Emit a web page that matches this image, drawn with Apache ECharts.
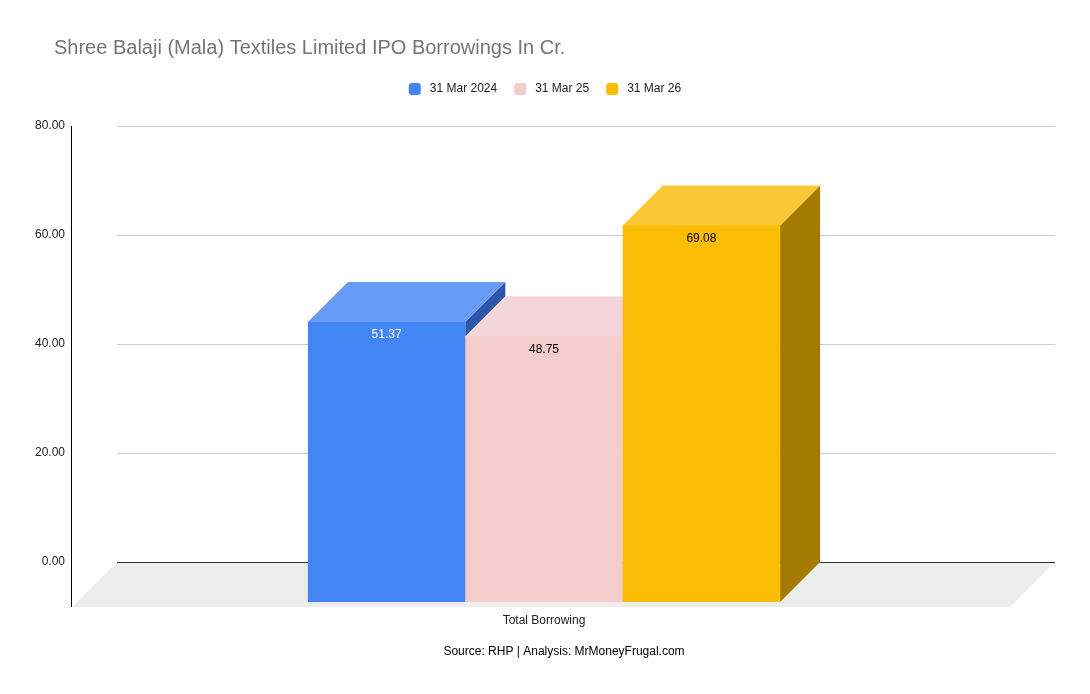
<!DOCTYPE html>
<html>
<head>
<meta charset="utf-8">
<script src="https://cdn.jsdelivr.net/npm/echarts@6/dist/echarts.min.js"></script>
<style>
html,body{margin:0;padding:0;background:#fff;}
#chart{width:1090px;height:694px;}
</style>
</head>
<body>
<div id="chart"></div>
<script>
const titleText = 'Shree Balaji (Mala) Textiles Limited IPO Borrowings In Cr.';
const sourceText = 'Source: RHP | Analysis: MrMoneyFrugal.com';
const categories = ['Total Borrowing'];
const seriesNames = ['31 Mar 2024', '31 Mar 25', '31 Mar 26'];
const values2024 = [51.37];
const values2025 = [48.75];
const values2026 = [69.08];
const yTicks = [0, 20, 40, 60, 80];

const FONT = '"Liberation Sans", Arial, sans-serif';
const D = 40;        // bar depth offset (px)
const FD = 45;       // floor depth offset (px)
const BAR_FRAC = 0.1678;
const BAR_SHIFT = -2;

const palettes = [
  {front:'#4285F4', top:'#679DF6', side:'#2C56A8', label:'#ffffff'},
  {front:'#F4CCCC', top:'#F5D6D8', side:'#9E8A8A', label:'#000000'},
  {front:'#FBBC04', top:'#FBC935', side:'#A37B02', label:'#000000'}
];

function barRender(idx){
  const p = palettes[idx];
  return function(params, api){
    const top = api.coord([api.value(0), api.value(1)]);
    const base = api.coord([api.value(0), 0]);
    const band = api.size([1, 0])[0];
    const w = band * BAR_FRAC;
    const bx0 = base[0] + BAR_SHIFT - 1.5 * w + idx * w;
    const bx1 = bx0 + w;
    const ty = top[1], by = base[1];
    const val = api.value(1);
    return {
      type: 'group',
      children: [
        {type:'polygon', shape:{points:[[bx1-D,ty+D],[bx1,ty],[bx1,by],[bx1-D,by+D]]}, style:{fill:p.side}},
        {type:'polygon', shape:{points:[[bx0-D,ty+D+2],[bx0-D,ty+D],[bx0,ty],[bx1,ty],[bx1-D,ty+D],[bx1-D,ty+D+2]]}, style:{fill:p.top}},
        {type:'rect', shape:{x:bx0-D, y:ty+D, width:w, height:by-ty}, style:{fill:p.front}},
        {type:'text', x:bx0-D+w/2, y:ty+D+13, style:{text:val.toFixed(2), fill:p.label, font:'12px ' + FONT, align:'center', verticalAlign:'middle'}}
      ]
    };
  };
}

function floorRender(params, api){
  const cs = params.coordSys;
  const z = api.coord([0, 0]);
  const x0 = cs.x, x1 = cs.x + cs.width, y0 = Math.round(z[1]);
  const ax = Math.round(x0 - 46) + 0.5;
  return {
    type:'group',
    children:[
      {type:'polygon', shape:{points:[[x0,y0],[x1,y0],[x1-FD,y0+FD],[x0-FD,y0+FD]]}, style:{fill:'#EDEDED'}},
      {type:'line', shape:{x1:x0, y1:y0+0.5, x2:x1, y2:y0+0.5}, style:{stroke:'#333333', lineWidth:1}},
      {type:'line', shape:{x1:ax, y1:cs.y, x2:ax, y2:y0+FD}, style:{stroke:'#000000', lineWidth:1}}
    ]
  };
}

const chart = echarts.init(document.getElementById('chart'), null, {renderer:'canvas'});
const valueSets = [values2024, values2025, values2026];

chart.setOption({
  backgroundColor:'#ffffff',
  animation:false,
  title:{text:titleText, left:54, top:38, padding:0, textStyle:{fontFamily:FONT, fontSize:20, fontWeight:'normal', color:'#757575'}},
  graphic:[{type:'text', x:564, y:652, style:{text:sourceText, font:'12px ' + FONT, fill:'#000000', align:'center', verticalAlign:'middle'}}],
  legend:{
    top:78, left:'center', itemWidth:12, itemHeight:12, itemGap:17, icon:'roundRect',
    data:seriesNames,
    textStyle:{fontFamily:FONT, fontSize:12, color:'#222222', padding:[0,0,0,4]}
  },
  grid:{left:117, right:35, top:126, bottom:132, containLabel:false},
  xAxis:{
    type:'category', data:categories,
    axisLine:{show:false}, axisTick:{show:false}, splitLine:{show:false},
    axisLabel:{margin:53, fontFamily:FONT, fontSize:12, color:'#222222', padding:[0,84,0,0]}
  },
  yAxis:{
    type:'value', min:yTicks[0], max:yTicks[yTicks.length-1], interval:20, offset:46,
    axisLine:{show:false}, axisTick:{show:false},
    axisLabel:{margin:6, fontFamily:FONT, fontSize:12, color:'#222222', formatter:v => v.toFixed(2)},
    splitLine:{lineStyle:{color:'#CCCCCC', width:1}}
  },
  series:[
    {type:'custom', name:'floor', renderItem:floorRender, data:[[0,0]], silent:true, z:1},
  ].concat(seriesNames.map((n, i) => ({
    type:'custom', name:n, renderItem:barRender(i), z:2 + i,
    itemStyle:{color:palettes[i].front},
    data: categories.map((c, k) => [k, valueSets[i][k]])
  })))
});
</script>
</body>
</html>
